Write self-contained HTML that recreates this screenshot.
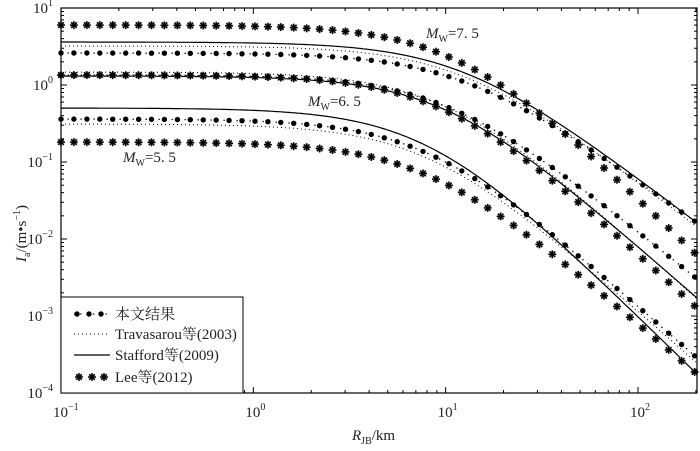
<!DOCTYPE html><html><head><meta charset="utf-8"><style>
body{margin:0;background:#fff;}
svg text{font-family:"Liberation Serif","Noto Serif CJK SC",serif;fill:#222;}
</style></head><body>
<svg id="s" width="700" height="446" xmlns="http://www.w3.org/2000/svg"></svg>
<script>
const L=61,R=697,T=8,B=393,DX=192.33,DY=77,P=1.5;
const Y=l=>T+(1-l)*DY;
let o='';
function mk(py,ey,h){const a=1-(py-T)/DY,e=1-(ey-T)/DY;const c=(a-e)/Math.log10(1+Math.pow(200/h,P));return r=>a-c*Math.log10(1+Math.pow(r/h,P));}
const H=[12,10,8];
const C={
 lee:[mk(25,254,H[0]),mk(75,307,H[1]),mk(142,373,H[2])],
 st:[mk(42,222,H[0]),mk(76,297,H[1]),mk(108,373,H[2])],
 tr:[mk(46,226,H[0]),mk(72,298,H[1]),mk(124,362,H[2])],
 me:[mk(53,222,H[0]),mk(75,278,H[1]),mk(119,357,H[2])]
};
function path(f){let d='';for(let px=L;px<=R;px+=2){const r=Math.pow(10,(px-L)/DX-1);d+=(d?'L':'M')+px+' '+Y(f(r)).toFixed(1);}return d;}
function star(x,y){let s=`<circle cx="${x}" cy="${y}" r="3.6" fill="#aaa"/>`;for(let k=0;k<4;k++){const a=k*Math.PI/4,c=Math.cos(a)*4,d=Math.sin(a)*4;s+=`<line x1="${(x-c).toFixed(1)}" y1="${(y-d).toFixed(1)}" x2="${(x+c).toFixed(1)}" y2="${(y+d).toFixed(1)}" stroke="#000" stroke-width="1.4"/>`;}return s;}
for(const f of C.st)o+=`<path d="${path(f)}" fill="none" stroke="#000" stroke-width="1.2"/>`;
for(const f of C.tr)o+=`<path d="${path(f)}" fill="none" stroke="#000" stroke-width="1" stroke-dasharray="1 3"/>`;
for(const f of C.me){o+=`<path d="${path(f)}" fill="none" stroke="#000" stroke-width="1.3" stroke-dasharray="1.3 5.2"/>`;}
for(let px=L;px<=R+1;px+=12.93){const r=Math.pow(10,(px-L)/DX-1);for(const f of C.lee)o+=star(px,Y(f(r)));for(const f of C.me)o+=`<circle cx="${px.toFixed(1)}" cy="${Y(f(r)).toFixed(1)}" r="2.7" fill="#000"/>`;}
o+=`<rect x="${L}" y="${T}" width="${R-L}" height="${B-T}" fill="none" stroke="#000" stroke-width="1.2"/>`;
for(let d=-1;d<=2;d++)for(let m=1;m<10;m++){const x=L+(d+1)*DX+Math.log10(m)*DX;if(x>R)break;const l=m==1?6:3;o+=`<line x1="${x}" y1="${B}" x2="${x}" y2="${B-l}" stroke="#000"/><line x1="${x}" y1="${T}" x2="${x}" y2="${T+l}" stroke="#000"/>`;}
for(let d=-4;d<=0;d++)for(let m=1;m<10;m++){const y=Y(d+Math.log10(m));const l=m==1?6:3;o+=`<line x1="${L}" y1="${y}" x2="${L+l}" y2="${y}" stroke="#000"/><line x1="${R}" y1="${y}" x2="${R-l}" y2="${y}" stroke="#000"/>`;}
for(let d=-4;d<=1;d++){const y=Y(d);o+=`<text x="${L-8}" y="${y+5}" font-size="15" text-anchor="end">10<tspan dy="-7" font-size="10">${d<0?'−'+(-d):d}</tspan></text>`;}
for(let d=-1;d<=2;d++){const x=L+(d+1)*DX;o+=`<text x="${x-8}" y="${B+24}" font-size="15">10<tspan dy="-7" font-size="10">${d<0?'−1':d}</tspan></text>`;}
o+=`<rect x="${L}" y="297" width="182" height="${B-297}" fill="#fff" stroke="#000" stroke-width="1"/>`;
const ly=[314,334,355,377];
o+=`<line x1="74" y1="${ly[0]}" x2="110" y2="${ly[0]}" stroke="#000" stroke-width="1.3" stroke-dasharray="1.3 5"/>`;[77,89,101].forEach(x=>o+=`<circle cx="${x}" cy="${ly[0]}" r="2.7"/>`);
o+=`<line x1="74" y1="${ly[1]}" x2="110" y2="${ly[1]}" stroke="#000" stroke-dasharray="1 3"/>`;
o+=`<line x1="74" y1="${ly[2]}" x2="110" y2="${ly[2]}" stroke="#000" stroke-width="1.2"/>`;
[79,92,104].forEach(x=>o+=star(x,ly[3]));
['本文结果','Travasarou等(2003)','Stafford等(2009)','Lee等(2012)'].forEach((t,i)=>o+=`<text x="115" y="${ly[i]+5}" font-size="15">${t}</text>`);
const ml=(x,y,v)=>`<text x="${x}" y="${y}" font-size="15"><tspan font-style="italic">M</tspan><tspan dy="4" font-size="10">W</tspan><tspan dy="-4">=${v}</tspan></text>`;
o+=ml(426,38,'7. 5')+ml(308,106,'6. 5')+ml(123,162,'5. 5');
o+=`<text x="352" y="440" font-size="15"><tspan font-style="italic">R</tspan><tspan dy="4" font-size="10">JB</tspan><tspan dy="-4">/km</tspan></text>`;
o+=`<text transform="translate(26,262) rotate(-90)" font-size="15"><tspan font-style="italic">I</tspan><tspan dy="4" font-size="10">a</tspan><tspan dy="-4">/(m•s</tspan><tspan dy="-6" font-size="10">−1</tspan><tspan dy="6">)</tspan></text>`;
document.getElementById('s').innerHTML=o;
</script>
</body></html>
